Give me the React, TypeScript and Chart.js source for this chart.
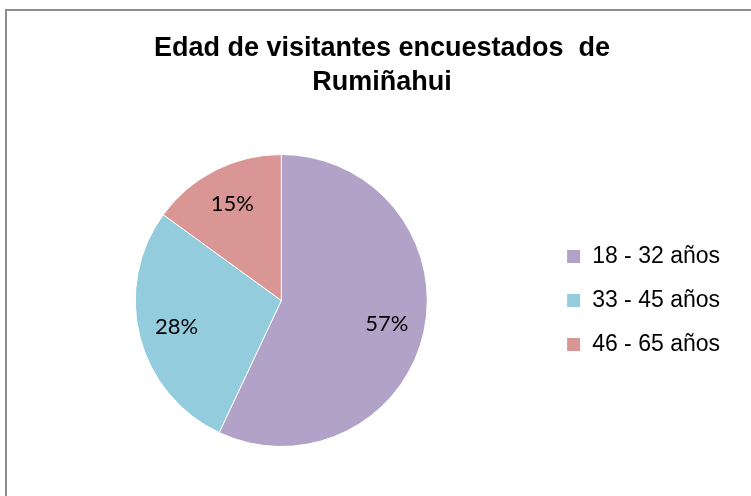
import React, { useEffect, useRef } from 'react';
import { Chart, registerables } from 'chart.js';

Chart.register(...registerables);

const categories = ['18 - 32 años', '33 - 45 años', '46 - 65 años'];
const shares = [57, 28, 15];
const sliceColors = ['#B3A2C7', '#93CDDD', '#D99694'];
const titleLines = ['Edad de visitantes encuestados  de', 'Rumiñahui'];

const W = 751;
const H = 496;

const overlayPlugin = {
  id: 'overlay',
  afterDatasetsDraw(chart: any) {
    const ctx = chart.ctx;
    const meta = chart.getDatasetMeta(0);
    ctx.save();
    ctx.fillStyle = '#000000';
    ctx.textAlign = 'center';
    ctx.textBaseline = 'middle';
    ctx.font = '22px Lato, "Open Sans", sans-serif';
    meta.data.forEach((arc: any, i: number) => {
      const p = arc.getProps(['x', 'y', 'startAngle', 'endAngle', 'outerRadius'], true);
      const mid = (p.startAngle + p.endAngle) / 2;
      const r = p.outerRadius * 0.74;
      ctx.fillText(`${shares[i]}%`, p.x + Math.cos(mid) * r, p.y + Math.sin(mid) * r);
    });
    ctx.font = 'bold 27px "Liberation Sans", Arial, sans-serif';
    ctx.textBaseline = 'alphabetic';
    ctx.fillText(titleLines[0], 382, 56);
    ctx.fillText(titleLines[1], 382, 90);
    ctx.restore();
  },
};

export default function App() {
  const canvasRef = useRef<HTMLCanvasElement | null>(null);

  useEffect(() => {
    const canvas = canvasRef.current;
    if (!canvas) return;
    const chart = new Chart(canvas, {
      type: 'pie',
      data: {
        labels: categories,
        datasets: [
          {
            data: shares,
            backgroundColor: sliceColors,
            borderColor: '#ffffff',
            borderWidth: 1,
          },
        ],
      },
      options: {
        responsive: false,
        animation: false,
        devicePixelRatio: 1,
        layout: { padding: { top: 154, bottom: 49, left: 17, right: 21 } },
        plugins: {
          title: { display: false },
          tooltip: { enabled: false },
          legend: {
            display: true,
            position: 'right',
            labels: {
              boxWidth: 14,
              boxHeight: 14,
              padding: 21,
              color: '#000000',
              font: { family: '"Liberation Sans", Arial, sans-serif', size: 23 },
            },
          },
        },
      },
      plugins: [overlayPlugin],
    } as any);
    return () => chart.destroy();
  }, []);

  return (
    <div style={{ position: 'fixed', left: 0, top: 0, width: W, height: H, background: '#ffffff', overflow: 'hidden' }}>
      <div
        style={{
          position: 'absolute',
          left: 5,
          top: 9,
          width: 780,
          height: 520,
          border: '2px solid #8c8c8c',
          boxSizing: 'border-box',
        }}
      />
      <canvas
        ref={canvasRef}
        width={W}
        height={H}
        style={{ position: 'absolute', left: 0, top: 0, width: W, height: H, display: 'block' }}
      />
    </div>
  );
}
